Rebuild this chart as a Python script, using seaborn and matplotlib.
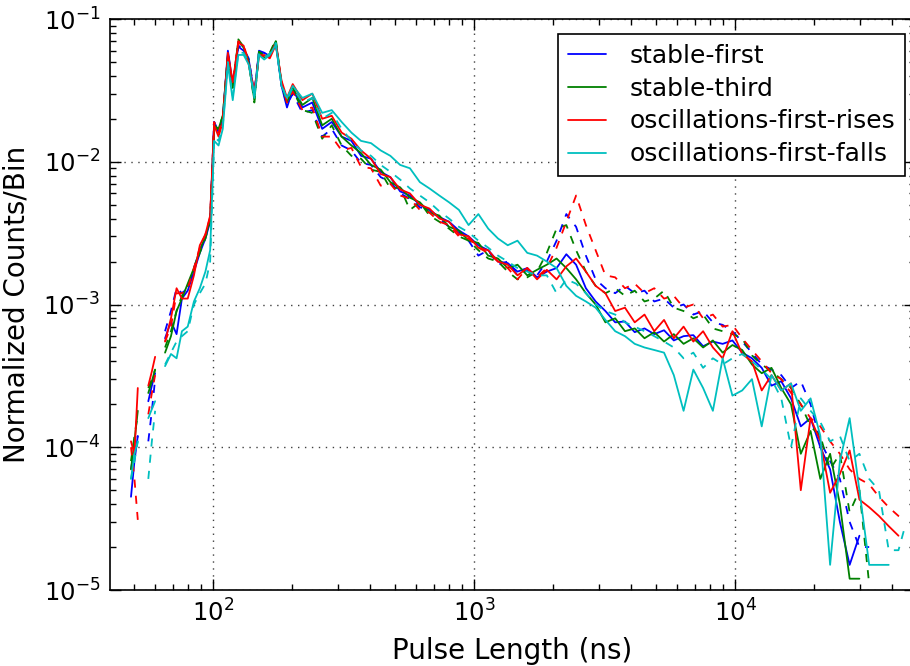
import numpy as np
import pandas as pd
import matplotlib
matplotlib.use('Agg')
import matplotlib.pyplot as plt
import seaborn as sns
from matplotlib.lines import Line2D

nan = np.nan

# bin centres (ns)
pulse_ns = [48.5, 50, 51.5, 54, 56.5, 58.3, 60, 62.5, 65.5, 69,
            72.5, 76, 80, 84.5, 89, 93.5, 97.5, 101, 105, 109,
            114, 119, 125, 131, 137, 144, 150, 157, 165, 174,
            183, 192, 202, 220, 240, 262, 285, 311, 339, 369,
            403, 439, 478, 521, 568, 620, 675, 736, 802, 875,
            953, 1039, 1133, 1235, 1346, 1467, 1599, 1743, 1900, 2071,
            2257, 2460, 2682, 2923, 3186, 3473, 3786, 4126, 4498, 4902,
            5344, 5825, 6349, 6920, 7543, 8222, 8962, 9768, 10647, 11606,
            12650, 13789, 15030, 16382, 17857, 19464, 21215, 23125, 25206, 27474,
            29947, 32642, 35580, 38782, 42272, 44800]

# solid lines
stable_first = [4.5e-5, 8e-5, 1.2e-4, nan, 2.1e-4, 2.7e-4, 3.3e-4, nan, 5.8e-4, 7.6e-4,
                6.2e-4, 1.1e-3, 1.25e-3, 1.7e-3, 2.3e-3, 2.9e-3, 3.8e-3, 1.9e-2, 1.6e-2, 2.0e-2,
                6.0e-2, 3.5e-2, 6.4e-2, 6.0e-2, 5.2e-2, 3.0e-2, 6.0e-2, 5.8e-2, 5.5e-2, 6.8e-2,
                3.4e-2, 2.4e-2, 3.2e-2, 2.4e-2, 2.6e-2, 1.7e-2, 1.9e-2, 1.5e-2, 1.4e-2, 1.1e-2,
                1.05e-2, 8.5e-3, 7.8e-3, 6.2e-3, 5.8e-3, 5.0e-3, 4.6e-3, 4.1e-3, 3.8e-3, 3.3e-3,
                3.0e-3, 2.6e-3, 2.4e-3, 2.0e-3, 1.95e-3, 1.7e-3, 1.8e-3, 1.55e-3, 1.7e-3, 1.8e-3,
                2.25e-3, 1.9e-3, 1.3e-3, 1.05e-3, 9.0e-4, 7.5e-4, 7.6e-4, 6.4e-4, 6.8e-4, 6.2e-4,
                6.6e-4, 5.6e-4, 6.0e-4, 6.1e-4, 5.1e-4, 5.5e-4, 5.3e-4, 5.6e-4, 4.6e-4, 4.2e-4,
                3.6e-4, 2.7e-4, 2.9e-4, 2.2e-4, 1.4e-4, 1.6e-4, 1.0e-4, 7e-5, 3e-5, 1.5e-5,
                2.4e-5, nan, nan, nan, nan, nan]
stable_third = [7e-5, 1.1e-4, 1.8e-4, nan, 2.4e-4, 2.9e-4, 3.5e-4, nan, 4.6e-4, 6.0e-4,
                9.0e-4, 1.1e-3, 1.4e-3, 1.8e-3, 2.4e-3, 3.0e-3, 3.9e-3, 1.7e-2, 1.7e-2, 2.1e-2,
                5.6e-2, 3.3e-2, 7.0e-2, 6.3e-2, 5.0e-2, 2.7e-2, 5.9e-2, 5.4e-2, 5.7e-2, 7.0e-2,
                3.5e-2, 2.6e-2, 3.3e-2, 2.5e-2, 2.8e-2, 1.8e-2, 2.0e-2, 1.5e-2, 1.3e-2, 1.15e-2,
                9.5e-3, 8.8e-3, 7.2e-3, 6.6e-3, 5.6e-3, 5.2e-3, 4.4e-3, 4.2e-3, 3.5e-3, 3.3e-3,
                2.8e-3, 2.7e-3, 2.2e-3, 2.1e-3, 1.8e-3, 1.9e-3, 1.6e-3, 1.75e-3, 1.9e-3, 2.1e-3,
                1.8e-3, 1.5e-3, 1.2e-3, 1.0e-3, 7.5e-4, 8.0e-4, 6.5e-4, 6.8e-4, 5.8e-4, 6.4e-4,
                5.5e-4, 6.2e-4, 5.3e-4, 5.8e-4, 5.0e-4, 5.6e-4, 4.6e-4, 5.2e-4, 4.8e-4, 3.8e-4,
                3.3e-4, 3.6e-4, 2.6e-4, 2.0e-4, 9e-5, 1.3e-4, 6e-5, 9e-5, 4e-5, 1.2e-5,
                1.2e-5, nan, nan, nan, nan, nan]
osc_rises = [1.1e-4, 9e-5, 2.6e-4, nan, 2.7e-4, 3.4e-4, 4.3e-4, nan, 5.5e-4, 8.0e-4,
             1.3e-3, 1.1e-3, 1.1e-3, 1.6e-3, 2.6e-3, 3.1e-3, 4.2e-3, 1.8e-2, 1.5e-2, 1.9e-2,
             5.8e-2, 3.6e-2, 6.8e-2, 6.5e-2, 4.8e-2, 3.0e-2, 5.5e-2, 5.6e-2, 5.3e-2, 6.6e-2,
             3.7e-2, 2.8e-2, 3.5e-2, 2.7e-2, 3.0e-2, 2.0e-2, 2.1e-2, 1.6e-2, 1.45e-2, 1.2e-2,
             1.05e-2, 8.2e-3, 7.8e-3, 6.4e-3, 6.0e-3, 5.0e-3, 4.7e-3, 4.0e-3, 3.8e-3, 3.1e-3,
             3.0e-3, 2.5e-3, 2.4e-3, 2.0e-3, 1.9e-3, 1.6e-3, 1.8e-3, 1.5e-3, 1.75e-3, 1.5e-3,
             1.85e-3, 2.1e-3, 1.7e-3, 1.35e-3, 1.2e-3, 9.0e-4, 9.5e-4, 7.5e-4, 8.5e-4, 6.5e-4,
             7.8e-4, 5.8e-4, 7.0e-4, 5.5e-4, 6.5e-4, 5.0e-4, 4.2e-4, 6.5e-4, 4.5e-4, 4.0e-4,
             2.5e-4, 3.2e-4, 2.5e-4, 2.8e-4, 5e-5, 1.6e-4, 1.1e-4, 4.8e-5, 6.5e-5, 9.5e-5,
             4.3e-5, 3.8e-5, 3.3e-5, 2.8e-5, 2.4e-5, nan]
osc_falls = [6e-5, 9e-5, 1.1e-4, nan, 1.6e-4, 1.85e-4, 2.1e-4, nan, 3.7e-4, 4.5e-4,
             4.2e-4, 6.5e-4, 7.0e-4, 1.05e-3, 1.3e-3, 1.7e-3, 2.4e-3, 1.4e-2, 1.3e-2, 1.7e-2,
             4.8e-2, 2.7e-2, 5.6e-2, 5.6e-2, 4.8e-2, 2.8e-2, 5.6e-2, 5.2e-2, 5.6e-2, 6.6e-2,
             3.4e-2, 2.8e-2, 3.4e-2, 2.8e-2, 3.0e-2, 2.2e-2, 2.3e-2, 1.9e-2, 1.6e-2, 1.4e-2,
             1.35e-2, 1.2e-2, 1.1e-2, 9.5e-3, 9.0e-3, 7.2e-3, 6.5e-3, 5.8e-3, 5.2e-3, 4.6e-3,
             3.6e-3, 4.3e-3, 3.4e-3, 2.9e-3, 2.6e-3, 2.8e-3, 2.3e-3, 2.2e-3, 2.0e-3, 1.8e-3,
             1.35e-3, 1.15e-3, 1.05e-3, 9.5e-4, 7.8e-4, 6.5e-4, 6.0e-4, 5.3e-4, 5.0e-4, 4.8e-4,
             4.6e-4, 3.2e-4, 1.8e-4, 3.5e-4, 2.6e-4, 1.8e-4, 4.2e-4, 2.3e-4, 2.5e-4, 3.0e-4,
             1.4e-4, 3.2e-4, 2.5e-4, 2.8e-4, 1.8e-4, 2.2e-4, 1.2e-4, 1.5e-5, 8e-5, 1.6e-4,
             5e-5, 1.5e-5, 1.5e-5, 1.5e-5, nan, nan]

# dashed lines
stable_first_d = [7e-5, 1.0e-4, 1.2e-4, nan, 1.1e-4, 1.8e-4, 3.0e-4, nan, 6.5e-4, 9.0e-4,
                  1.3e-3, 1.2e-3, 1.3e-3, 1.8e-3, 2.4e-3, 3.0e-3, 4.0e-3, 1.9e-2, 1.6e-2, 2.0e-2,
                  5.8e-2, 3.4e-2, 6.5e-2, 6.2e-2, 5.3e-2, 3.0e-2, 5.8e-2, 5.8e-2, 5.5e-2, 6.8e-2,
                  3.4e-2, 2.5e-2, 3.0e-2, 2.2e-2, 2.3e-2, 1.5e-2, 1.7e-2, 1.3e-2, 1.2e-2, 9.8e-3,
                  9.5e-3, 7.8e-3, 7.2e-3, 6.0e-3, 5.5e-3, 4.8e-3, 4.6e-3, 4.0e-3, 3.5e-3, 3.2e-3,
                  2.8e-3, 2.2e-3, 2.4e-3, 1.9e-3, 2.0e-3, 1.6e-3, 1.75e-3, 1.6e-3, 2.0e-3, 2.8e-3,
                  4.3e-3, 3.5e-3, 2.2e-3, 1.5e-3, 1.3e-3, 1.2e-3, 1.35e-3, 1.2e-3, 1.25e-3, 1.05e-3,
                  1.1e-3, 9.5e-4, 1.0e-3, 8.5e-4, 9.0e-4, 7.5e-4, 7.2e-4, 6.5e-4, 5.5e-4, 4.6e-4,
                  3.8e-4, 3.5e-4, 3.2e-4, 2.6e-4, 2.9e-4, 2.0e-4, 1.1e-4, 8e-5, 6e-5, 3e-5,
                  2e-5, 2e-5, nan, nan, nan, nan]
stable_third_d = [8e-5, 1.2e-4, 1.7e-4, nan, 2.6e-4, 3.0e-4, 3.5e-4, nan, 5.0e-4, 6.5e-4,
                  9.0e-4, 1.15e-3, 1.35e-3, 1.75e-3, 2.3e-3, 2.9e-3, 3.8e-3, 1.8e-2, 1.7e-2, 2.1e-2,
                  5.5e-2, 3.3e-2, 7.2e-2, 6.4e-2, 5.0e-2, 2.6e-2, 5.9e-2, 5.6e-2, 5.8e-2, 7.2e-2,
                  3.5e-2, 2.7e-2, 3.2e-2, 2.3e-2, 2.2e-2, 1.45e-2, 1.8e-2, 1.3e-2, 1.1e-2, 1.05e-2,
                  8.8e-3, 8.5e-3, 6.5e-3, 6.6e-3, 4.6e-3, 5.2e-3, 4.2e-3, 3.8e-3, 3.4e-3, 3.0e-3,
                  2.8e-3, 2.4e-3, 2.1e-3, 2.0e-3, 1.7e-3, 1.5e-3, 1.55e-3, 1.7e-3, 2.3e-3, 3.4e-3,
                  3.6e-3, 2.4e-3, 1.7e-3, 1.35e-3, 1.2e-3, 1.3e-3, 1.15e-3, 1.25e-3, 1.05e-3, 1.1e-3,
                  1.25e-3, 9.5e-4, 9.0e-4, 8.0e-4, 8.5e-4, 6.8e-4, 6.5e-4, 6.2e-4, 5.8e-4, 4.4e-4,
                  3.8e-4, 3.4e-4, 3.0e-4, 2.6e-4, 2.0e-4, 1.4e-4, 1.2e-4, 7e-5, 9e-5, 3.5e-5,
                  5e-5, 1.1e-5, nan, nan, nan, nan]
osc_rises_d = [1.0e-4, 6e-5, 3.1e-5, nan, 1.7e-4, 2.4e-4, 3.2e-4, nan, 5.5e-4, 7.0e-4,
               1.2e-3, 1.2e-3, 1.3e-3, 1.8e-3, 2.5e-3, 3.1e-3, 4.1e-3, 1.9e-2, 1.6e-2, 2.0e-2,
               5.6e-2, 3.5e-2, 7.0e-2, 6.6e-2, 5.0e-2, 3.1e-2, 5.6e-2, 5.5e-2, 5.4e-2, 6.9e-2,
               3.6e-2, 2.6e-2, 3.1e-2, 2.3e-2, 2.4e-2, 1.5e-2, 1.5e-2, 1.2e-2, 1.25e-2, 9.2e-3,
               9.0e-3, 6.8e-3, 7.0e-3, 5.8e-3, 5.5e-3, 4.6e-3, 4.4e-3, 3.8e-3, 3.6e-3, 3.0e-3,
               2.9e-3, 2.5e-3, 2.3e-3, 2.0e-3, 1.8e-3, 1.5e-3, 1.8e-3, 1.55e-3, 1.8e-3, 2.5e-3,
               3.8e-3, 5.8e-3, 3.6e-3, 2.4e-3, 1.6e-3, 1.55e-3, 1.3e-3, 1.4e-3, 1.2e-3, 1.3e-3,
               1.1e-3, 1.15e-3, 9.5e-4, 1.0e-3, 8.0e-4, 8.5e-4, 7.0e-4, 7.2e-4, 5.8e-4, 4.8e-4,
               4.0e-4, 3.3e-4, 3.0e-4, 2.4e-4, 2.0e-4, 1.6e-4, 1.4e-4, 1.1e-4, 9e-5, 7e-5,
               6e-5, 5.5e-5, 4.5e-5, 3.8e-5, 3.3e-5, 3.1e-5]
osc_falls_d = [6e-5, 8e-5, 1.1e-4, nan, 6e-5, 1.1e-4, 1.8e-4, nan, 3.8e-4, 4.6e-4,
               5.5e-4, 6.0e-4, 6.5e-4, 1.0e-3, 1.2e-3, 1.4e-3, 2.0e-3, 1.5e-2, 1.4e-2, 1.8e-2,
               5.0e-2, 2.9e-2, 5.8e-2, 5.8e-2, 5.0e-2, 2.9e-2, 5.8e-2, 5.4e-2, 5.7e-2, 6.8e-2,
               3.5e-2, 2.7e-2, 3.3e-2, 2.6e-2, 2.8e-2, 2.0e-2, 2.2e-2, 1.7e-2, 1.4e-2, 1.2e-2,
               1.1e-2, 9.5e-3, 8.5e-3, 7.5e-3, 6.5e-3, 5.8e-3, 5.2e-3, 4.5e-3, 4.0e-3, 3.5e-3,
               3.2e-3, 2.8e-3, 2.5e-3, 2.2e-3, 2.0e-3, 1.8e-3, 1.7e-3, 1.6e-3, 1.6e-3, 1.2e-3,
               1.5e-3, 1.4e-3, 1.2e-3, 1.0e-3, 9.0e-4, 8.5e-4, 7.5e-4, 7.0e-4, 6.5e-4, 6.0e-4,
               5.5e-4, 5.0e-4, 4.2e-4, 4.6e-4, 3.6e-4, 4.2e-4, 3.8e-4, 4.2e-4, 4.5e-4, 4.0e-4,
               3.5e-4, 3.0e-4, 2.2e-4, 1.0e-4, 2.2e-4, 1.8e-4, 1.5e-4, 1.1e-4, 1.2e-4, 8e-5,
               9e-5, 6e-5, 5e-5, 1.9e-5, 1.9e-5, 2.8e-5]

series_names = ['stable-first', 'stable-third', 'oscillations-first-rises', 'oscillations-first-falls']
series_colors = {'stable-first': (0, 0, 1), 'stable-third': (0, 0.5, 0),
                 'oscillations-first-rises': (1, 0, 0), 'oscillations-first-falls': (0, 0.75, 0.75)}

curves = [('stable-first', 'solid', stable_first), ('stable-third', 'solid', stable_third),
          ('oscillations-first-rises', 'solid', osc_rises), ('oscillations-first-falls', 'solid', osc_falls),
          ('stable-first', 'dashed', stable_first_d), ('stable-third', 'dashed', stable_third_d),
          ('oscillations-first-rises', 'dashed', osc_rises_d), ('oscillations-first-falls', 'dashed', osc_falls_d)]

# long-form table, empty bins split each curve into separate segments
rows = []
for name, kind, vals in curves:
    v = np.array(vals, dtype=float)
    seg = np.cumsum(np.isnan(v))
    for x, y, s in zip(pulse_ns, v, seg):
        if not np.isnan(y):
            rows.append((x, y, name, kind, f'{name}|{kind}|{s}'))
df = pd.DataFrame(rows, columns=['pulse', 'counts', 'series', 'kind', 'unit'])

sns.set_style('ticks')
plt.rcParams['font.family'] = ['DejaVu Sans']
plt.rcParams['text.color'] = 'k'
plt.rcParams['axes.labelcolor'] = 'k'

fig = plt.figure(figsize=(9.1, 6.66), dpi=100)
ax = fig.add_axes([110 / 910, 1 - 590 / 666, 805 / 910, 571 / 666])
ax.set_xscale('log')
ax.set_yscale('log')

sns.lineplot(data=df, x='pulse', y='counts', hue='series', hue_order=series_names,
             style='kind', style_order=['solid', 'dashed'],
             dashes={'solid': '', 'dashed': (4.5, 4.5)}, units='unit', estimator=None,
             sort=False, palette=series_colors, lw=1.3, legend=False, ax=ax)

ax.set_xlim(40.3, 48900)
ax.set_ylim(1e-5, 1e-1)
ax.grid(True, which='major', color='0.25', ls=(0, (1, 4)), lw=1.0)
ax.tick_params(which='both', direction='in', top=True, right=True, colors='k', width=1)
ax.tick_params(which='major', length=8, labelsize=17.5, pad=7)
ax.tick_params(which='minor', length=4)
for sp in ax.spines.values():
    sp.set_color('k')
    sp.set_linewidth(1.2)

ax.set_xlabel('Pulse Length (ns)', fontsize=20, labelpad=7)
ax.set_ylabel('Normalized Counts/Bin', fontsize=20, labelpad=9)

handles = [Line2D([], [], color=series_colors[n], lw=1.3) for n in series_names]
leg = ax.legend(handles, series_names, loc='upper right',
                bbox_to_anchor=(905 / 910, 1 - 34 / 666), bbox_transform=fig.transFigure,
                borderaxespad=0, fontsize=18, frameon=True, fancybox=False,
                framealpha=1, edgecolor='k', handlelength=1.5, handletextpad=0.95,
                borderpad=0.4, labelspacing=0.35)
leg.get_frame().set_linewidth(1.2)

fig.savefig('out.png', dpi=100)
